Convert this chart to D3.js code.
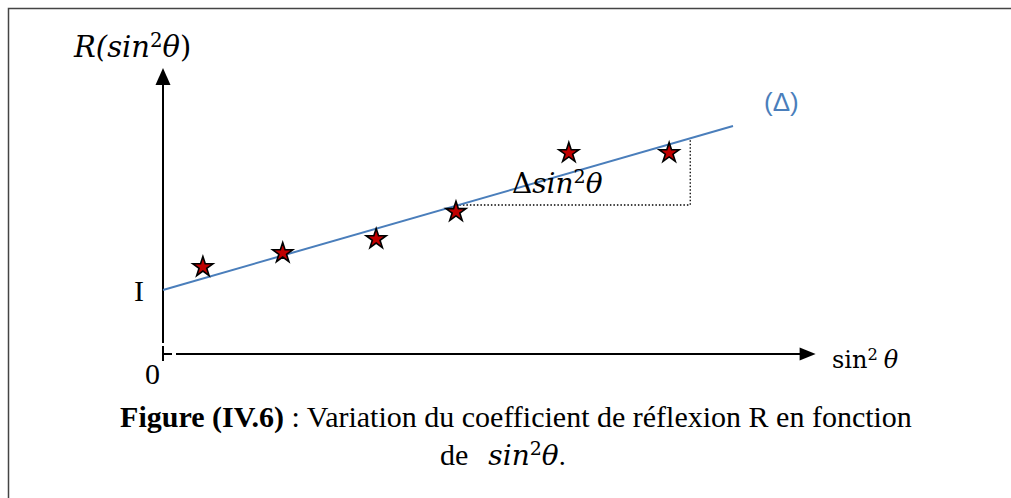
<!DOCTYPE html>
<html>
<head>
<meta charset="utf-8">
<script src="https://cdn.jsdelivr.net/npm/d3@7"></script>
<style>
  body { margin: 0; background: #fff; }
  svg { display: block; }
  .serif { font-family: "Liberation Serif", "Times New Roman", serif; }
</style>
</head>
<body>
<svg width="1011" height="498"></svg>
<script>
// measured points (arbitrary units, sin^2 theta vs R)
var sin2 = [0.70, 2.10, 3.74, 5.14, 7.12, 8.88];
var R = [3.04, 3.53, 4.02, 4.97, 7.03, 7.03];
// fitted line (Delta): intercept I and end of segment
var fitX = [0, 10];
var fitY = [2.24, 7.97];
// slope triangle corners
var triX = [5.2, 9.25];
var triY = [5.21, 7.55];

var svg = d3.select("svg"),
    width = +svg.attr("width"),
    height = +svg.attr("height");

var x = d3.scaleLinear().domain([0, 10]).range([163, 733]);
var y = d3.scaleLinear().domain([0, 10]).range([354, 68]);

// frame (only top and left visible)
svg.append("path")
    .attr("d", "M8.5," + height + "V8.5H" + width)
    .attr("fill", "none")
    .attr("stroke", "#444")
    .attr("stroke-width", 1.5);

var g = svg.append("g");

// y axis with arrow
g.append("line")
    .attr("x1", x(0)).attr("x2", x(0))
    .attr("y1", y(0) - 11).attr("y2", y(10) + 15)
    .attr("stroke", "#000").attr("stroke-width", 2);
g.append("path")
    .attr("d", d3.line()([[x(0), y(10)], [x(0) - 7.5, y(10) + 17], [x(0) + 7.5, y(10) + 17]]) + "Z")
    .attr("fill", "#000");

// small origin tick
g.append("path")
    .attr("d", "M" + x(0) + "," + (y(0) - 8) + "V" + (y(0) + 7) + "M" + x(0) + "," + y(0) + "H" + (x(0) + 9))
    .attr("stroke", "#000").attr("stroke-width", 2).attr("fill", "none");

// x axis with arrow
var xEnd = x(11.45);
g.append("line")
    .attr("x1", x(0) + 13).attr("x2", xEnd - 14)
    .attr("y1", y(0)).attr("y2", y(0))
    .attr("stroke", "#000").attr("stroke-width", 2);
g.append("path")
    .attr("d", d3.line()([[xEnd, y(0)], [xEnd - 16, y(0) - 6.5], [xEnd - 16, y(0) + 6.5]]) + "Z")
    .attr("fill", "#000");

// dotted slope triangle
g.append("path")
    .attr("d", d3.line()([[x(triX[0]), y(triY[0])], [x(triX[1]), y(triY[0])], [x(triX[1]), y(triY[1])]]))
    .attr("fill", "none")
    .attr("stroke", "#000")
    .attr("stroke-width", 1.3)
    .attr("stroke-dasharray", "1.5,2");

// fitted line
g.append("line")
    .attr("x1", x(fitX[0])).attr("y1", y(fitY[0]))
    .attr("x2", x(fitX[1])).attr("y2", y(fitY[1]))
    .attr("stroke", "#4a7ebb").attr("stroke-width", 2);

// stars
var star = d3.symbol().type(d3.symbolStar).size(125);
g.selectAll(".pt")
    .data(sin2.map(function(d, i) { return [d, R[i]]; }))
    .enter().append("path")
    .attr("class", "pt")
    .attr("d", star)
    .attr("transform", function(d) { return "translate(" + x(d[0]) + "," + y(d[1]) + ")"; })
    .attr("fill", "#c00000")
    .attr("stroke", "#000")
    .attr("stroke-width", 1.6);

// labels (math parts in a wide serif, like Cambria Math)
var mathFont = "'DejaVu Serif', serif";

function mathText(px, py, size, parts, color) {
    var t = svg.append("text")
        .attr("x", px).attr("y", py)
        .attr("font-size", size)
        .attr("fill", color || "#000");
    parts.forEach(function(p) {
        var s = t.append("tspan").text(p.t)
            .attr("font-family", p.f || mathFont)
            .attr("font-style", p.i ? "italic" : "normal");
        if (p.dx) s.attr("dx", p.dx);
        if (p.sup) s.attr("dy", -size * 0.35).attr("font-size", size * 0.68);
        if (p.down) s.attr("dy", size * 0.35);
    });
    return t;
}

mathText(74, 57, 29, [
    {t: "R(sin", i: true},
    {t: "2", sup: true},
    {t: "θ", i: true, down: true},
    {t: ")"}
]);

mathText(764, 111, 26, [{t: "(Δ)", f: "'Liberation Sans', sans-serif"}], "#4a7ebb");

mathText(512, 193, 28, [
    {t: "Δ"},
    {t: "sin", i: true},
    {t: "2", sup: true},
    {t: "θ", i: true, down: true}
]);

mathText(832, 368, 24, [
    {t: "sin"},
    {t: "2", sup: true},
    {t: "θ", i: true, down: true, dx: 6}
]);

svg.append("text").attr("class", "serif")
    .attr("x", 134).attr("y", 301).attr("font-size", 30).text("I");
svg.append("text").attr("class", "serif")
    .attr("x", 145).attr("y", 384).attr("font-size", 30).text("0");

// caption
var cap = svg.append("text").attr("class", "serif")
    .attr("x", 516).attr("y", 427).attr("font-size", 30)
    .attr("text-anchor", "middle");
cap.append("tspan").attr("font-weight", "bold").text("Figure (IV.6)");
cap.append("tspan").text(" : Variation du coefficient de réflexion R en fonction");

mathText(440, 465, 28, [
    {t: "de", f: "'Liberation Serif', serif", size: 30},
    {t: "sin", i: true, dx: 20},
    {t: "2", sup: true},
    {t: "θ", i: true, down: true},
    {t: ".", f: "'Liberation Serif', serif"}
]).select("tspan").attr("font-size", 30);
</script>
</body>
</html>
